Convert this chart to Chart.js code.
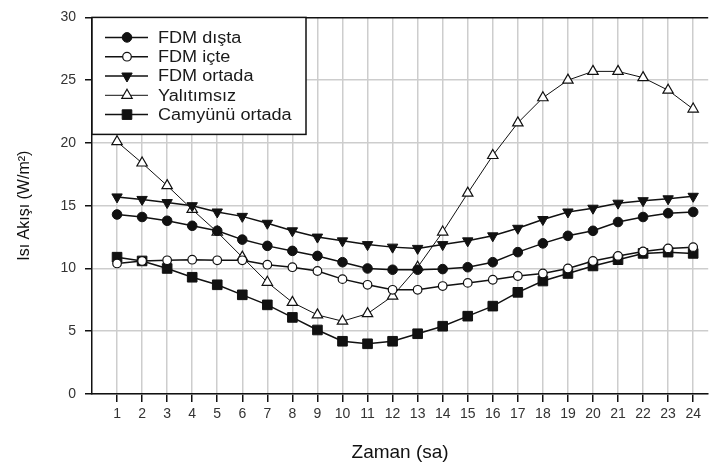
<!DOCTYPE html>
<html>
<head>
<meta charset="utf-8">
<script src="https://cdn.jsdelivr.net/npm/chart.js@4/dist/chart.umd.min.js"></script>
<style>
  html, body { margin: 0; padding: 0; background: #fff; }
  #wrap { width: 716px; height: 470px; position: relative; }
</style>
</head>
<body>
<div id="wrap"><canvas id="heatChart"></canvas></div>
<script>
// hourly heat flux per wall configuration (W/m²)
const hours = [1, 2, 3, 4, 5, 6, 7, 8, 9, 10, 11, 12, 13, 14, 15, 16, 17, 18, 19, 20, 21, 22, 23, 24];
const fdmDista = [14.3, 14.1, 13.8, 13.4, 13.0, 12.3, 11.8, 11.4, 11.0, 10.5, 10.0, 9.9, 9.9, 9.95, 10.1, 10.5, 11.3, 12.0, 12.6, 13.0, 13.7, 14.1, 14.4, 14.5];
const fdmIcte = [10.4, 10.6, 10.65, 10.7, 10.65, 10.65, 10.3, 10.1, 9.8, 9.15, 8.7, 8.3, 8.3, 8.6, 8.85, 9.1, 9.4, 9.6, 10.0, 10.6, 11.0, 11.35, 11.6, 11.7];
const fdmOrtada = [15.7, 15.5, 15.25, 15.0, 14.5, 14.15, 13.6, 13.0, 12.5, 12.2, 11.9, 11.7, 11.6, 11.9, 12.2, 12.6, 13.2, 13.9, 14.5, 14.8, 15.2, 15.4, 15.55, 15.75];
const yalitimsiz = [20.1, 18.4, 16.6, 14.7, 12.9, 10.9, 8.9, 7.3, 6.3, 5.8, 6.4, 7.8, 10.1, 12.9, 16.0, 19.0, 21.6, 23.6, 25.0, 25.7, 25.7, 25.2, 24.2, 22.7];
const camyunuOrtada = [10.9, 10.6, 10.0, 9.3, 8.7, 7.9, 7.1, 6.1, 5.1, 4.2, 4.0, 4.2, 4.8, 5.4, 6.2, 7.0, 8.1, 9.0, 9.6, 10.2, 10.7, 11.2, 11.3, 11.2];
const yTicks = [0, 5, 10, 15, 20, 25, 30];

const FONT = "'Liberation Sans', Arial, sans-serif";
const INK = "#111";

function series(label, values, style) {
  return Object.assign({
    label,
    data: values.map((v, i) => ({ x: hours[i], y: v })),
    borderColor: INK,
    borderWidth: 1.5,
    pointBorderColor: INK,
    pointBackgroundColor: INK,
    pointBorderWidth: 1,
    pointRadius: 4.5,
    tension: 0,
  }, style);
}

const datasets = [
  series("FDM dışta", fdmDista, { pointStyle: "circle", pointRadius: 4.8 }),
  series("FDM içte", fdmIcte, { pointStyle: "circle", pointBackgroundColor: "#fff", pointRadius: 4.3, pointBorderWidth: 1.2 }),
  series("FDM ortada", fdmOrtada, { pointStyle: "triangle", pointRotation: 180, pointRadius: 6 }),
  series("Yalıtımsız", yalitimsiz, { pointStyle: "triangle", pointBackgroundColor: "#fff", pointRadius: 6, pointBorderWidth: 1.2, borderWidth: 1 }),
  series("Camyünü ortada", camyunuOrtada, { pointStyle: "rect", pointRadius: 6.8 }),
];

// boxed legend in the upper left corner of the plot, line + marker per row
const boxLegend = {
  id: "boxLegend",
  afterDraw(chart) {
    const { ctx, chartArea } = chart;
    const x0 = chartArea.left, y0 = chartArea.top;
    const w = 214, h = 117;
    ctx.save();
    ctx.fillStyle = "#fff";
    ctx.fillRect(x0, y0, w, h);
    ctx.strokeStyle = INK;
    ctx.lineWidth = 1.5;
    ctx.strokeRect(x0, y0, w, h);
    ctx.font = "16px " + FONT;
    ctx.textBaseline = "middle";
    chart.data.datasets.forEach((ds, i) => {
      const cy = y0 + 20 + i * 19.3;
      ctx.strokeStyle = INK;
      ctx.lineWidth = ds.borderWidth;
      ctx.beginPath();
      ctx.moveTo(x0 + 13, cy);
      ctx.lineTo(x0 + 56, cy);
      ctx.stroke();
      ctx.fillStyle = ds.pointBackgroundColor;
      ctx.strokeStyle = ds.pointBorderColor;
      ctx.lineWidth = ds.pointBorderWidth;
      Chart.helpers.drawPoint(ctx, {
        pointStyle: ds.pointStyle,
        rotation: ds.pointRotation || 0,
        radius: ds.pointRadius,
        borderWidth: ds.pointBorderWidth,
      }, x0 + 35, cy);
      // labels are set a little wide
      ctx.save();
      ctx.translate(x0 + 66, cy + 1);
      ctx.scale(1.13, 1);
      ctx.fillStyle = "#1a1a1a";
      ctx.fillText(ds.label, 0, 0);
      ctx.restore();
    });
    ctx.restore();
  },
};

new Chart(document.getElementById("heatChart"), {
  type: "line",
  data: { datasets },
  plugins: [boxLegend],
  options: {
    responsive: true,
    maintainAspectRatio: false,
    animation: false,
    layout: { padding: { top: 7, right: 0, bottom: 0, left: 0 } },
    plugins: { legend: { display: false }, tooltip: { enabled: false } },
    scales: {
      x: {
        type: "linear",
        min: 0,
        max: 24.6,
        afterBuildTicks: (scale) => { scale.ticks = hours.map((v) => ({ value: v })); },
        afterFit: (scale) => { scale.height = 76; },
        border: { color: INK, width: 1.5 },
        grid: { color: "#cdcdcd", lineWidth: 1.5, tickColor: INK, tickLength: 8 },
        ticks: { color: "#333", font: { family: FONT, size: 14 }, padding: 4, maxRotation: 0, autoSkip: false },
        title: { display: true, text: "Zaman (sa)", color: "#111", font: { family: FONT, size: 19 }, padding: { top: 0, bottom: 6 } },
      },
      y: {
        min: 0,
        max: 30,
        afterBuildTicks: (scale) => { scale.ticks = yTicks.map((v) => ({ value: v })); },
        afterFit: (scale) => { scale.width = 92; },
        border: { color: INK, width: 1.5 },
        grid: {
          color: (c) => (c.tick && c.tick.value === 30 ? INK : "#cdcdcd"),
          lineWidth: 1.5,
          tickColor: INK,
          tickLength: 7,
        },
        ticks: { color: "#333", font: { family: FONT, size: 14 }, padding: 9 },
        title: { display: true, text: "Isı Akışı (W/m²)", color: "#111", font: { family: FONT, size: 16 }, padding: { top: 15, bottom: 0 } },
      },
    },
  },
});
</script>
</body>
</html>
